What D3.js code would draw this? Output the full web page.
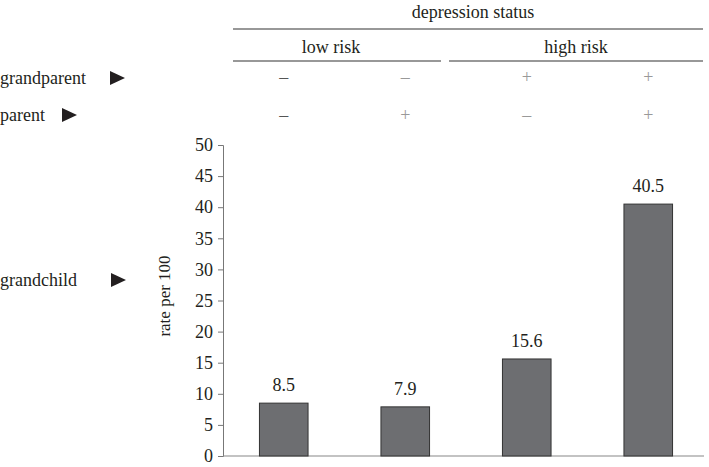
<!DOCTYPE html>
<html>
<head>
<meta charset="utf-8">
<script src="https://cdn.jsdelivr.net/npm/d3@7"></script>
<style>
  body { margin: 0; background: #fff; }
  text { font-family: "Liberation Serif", "Times New Roman", Times, "DejaVu Serif", serif; fill: #231f20; }
</style>
</head>
<body>
<script>
let width = 709,
    height = 467;

// data
let groups = ['g1', 'g2', 'g3', 'g4'];
let rates = [8.5, 7.9, 15.6, 40.5];
let grandparentSigns = ['\u2013', '\u2013', '+', '+'];
let parentSigns = ['\u2013', '+', '\u2013', '+'];
let yTicks = [0, 5, 10, 15, 20, 25, 30, 35, 40, 45, 50];
let riskGroups = ['low risk', 'high risk'];

let font = '"Liberation Serif", "Times New Roman", Times, "DejaVu Serif", serif';

let svg = d3.select('body').append('svg')
    .attr('width', width)
    .attr('height', height);

let x = d3.scaleBand()
    .domain(groups)
    .range([223, 709])
    .paddingInner(0.6)
    .paddingOuter(0.3);

let y = d3.scaleLinear()
    .domain([0, 50])
    .range([456, 145]);

// header
svg.append('text')
    .attr('x', 473).attr('y', 18)
    .attr('text-anchor', 'middle')
    .style('font-size', '18px')
    .style('font-family', font)
    .text('depression status');
svg.append('line')
    .attr('x1', 233).attr('x2', 703)
    .attr('y1', 29).attr('y2', 29)
    .attr('stroke', '#333').attr('stroke-width', 1.2);

riskGroups.forEach((label, i) => {
    let x1 = i === 0 ? 233 : 449,
        x2 = i === 0 ? 441 : 703;
    svg.append('text')
        .attr('x', (x1 + x2) / 2 - (i === 0 ? 6 : 0)).attr('y', 53)
        .attr('text-anchor', 'middle')
        .style('font-size', '18px')
        .style('font-family', font)
        .text(label);
    svg.append('line')
        .attr('x1', x1).attr('x2', x2)
        .attr('y1', 61).attr('y2', 61)
        .attr('stroke', '#333').attr('stroke-width', 1.2);
});

// row labels
function rowLabel(label, ty, triX) {
    svg.append('text')
        .attr('x', 0).attr('y', ty + 6)
        .style('font-size', '18px')
        .style('font-family', font)
        .text(label);
    svg.append('path')
        .attr('d', `M${triX},${ty - 7}L${triX + 15},${ty}L${triX},${ty + 7}Z`)
        .attr('fill', '#231f20');
}
rowLabel('grandparent', 78, 110);
rowLabel('parent', 115, 62);
rowLabel('grandchild', 280, 111);

// sign rows
function signRow(signs, ty) {
    svg.append('g').selectAll('text').data(signs).enter().append('text')
        .attr('x', (d, i) => x(groups[i]) + x.bandwidth() / 2)
        .attr('y', ty)
        .attr('text-anchor', 'middle')
        .style('font-size', '18px')
        .style('font-family', font)
        .style('fill', (d, i) => i === 0 ? '#555' : '#999')
        .text(d => d);
}
signRow(grandparentSigns, 83);
signRow(parentSigns, 121);

// y axis
let yAxis = svg.append('g')
    .attr('transform', 'translate(223,0)')
    .call(d3.axisLeft(y).tickValues(yTicks).tickSize(5).tickPadding(5));
yAxis.select('.domain').attr('stroke', '#777');
yAxis.selectAll('.tick line').attr('stroke', '#777');
yAxis.selectAll('.tick text')
    .style('font-size', '18px')
    .style('font-family', font)
    .attr('fill', '#231f20');

svg.append('text')
    .attr('transform', 'translate(170,296) rotate(-90)')
    .attr('text-anchor', 'middle')
    .style('font-size', '17px')
    .style('font-family', font)
    .text('rate per 100');

// x baseline
svg.append('line')
    .attr('x1', 223).attr('x2', 704)
    .attr('y1', y(0)).attr('y2', y(0))
    .attr('stroke', '#888').attr('stroke-width', 1.2);

// bars
svg.selectAll('.bar').data(rates).enter().append('rect')
    .attr('class', 'bar')
    .attr('x', (d, i) => x(groups[i]))
    .attr('y', d => y(d))
    .attr('width', x.bandwidth())
    .attr('height', d => y(0) - y(d))
    .attr('fill', '#6d6e71')
    .attr('stroke', '#333')
    .attr('stroke-width', 1);

svg.selectAll('.val').data(rates).enter().append('text')
    .attr('class', 'val')
    .attr('x', (d, i) => x(groups[i]) + x.bandwidth() / 2)
    .attr('y', d => y(d) - 12)
    .attr('text-anchor', 'middle')
    .style('font-size', '18px')
    .style('font-family', font)
    .text(d => d.toFixed(1));
</script>
</body>
</html>
